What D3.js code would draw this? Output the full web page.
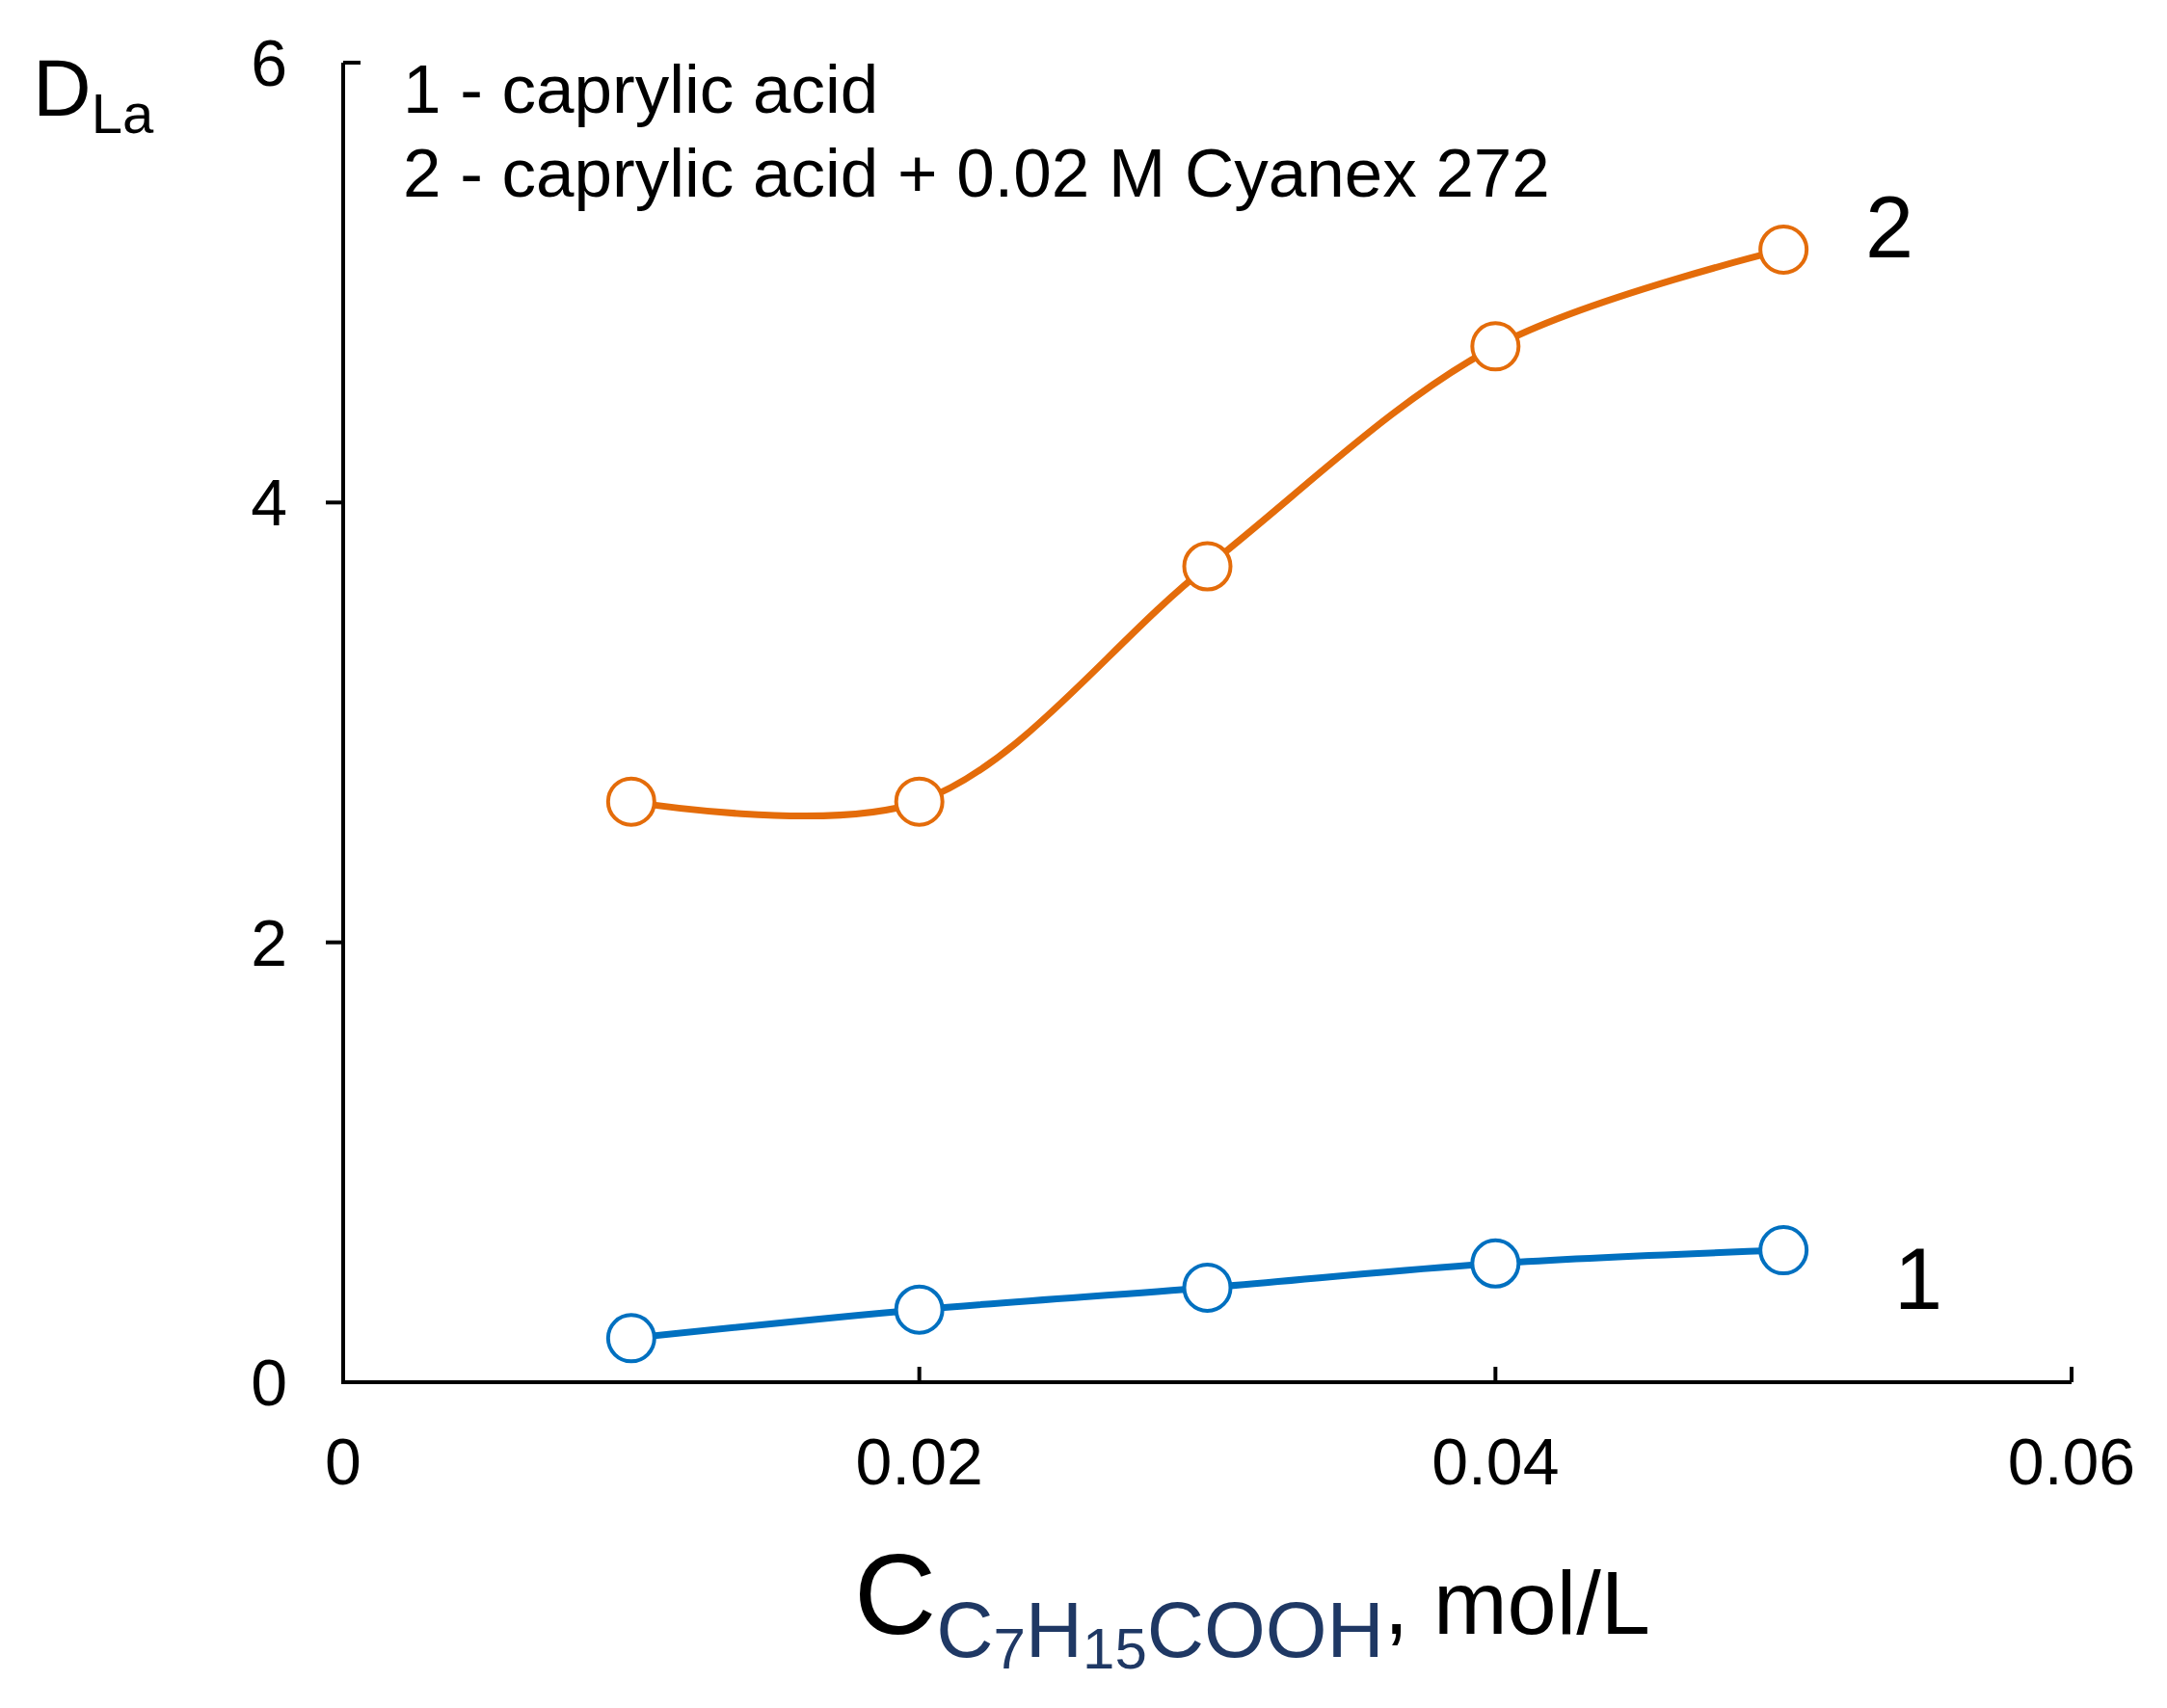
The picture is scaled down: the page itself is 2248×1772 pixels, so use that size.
<!DOCTYPE html>
<html><head><meta charset="utf-8">
<script src="https://cdn.jsdelivr.net/npm/d3@7"></script>
<style>body{margin:0;background:#fff}text{font-family:"Liberation Sans",Arial,sans-serif}</style>
</head><body>
<svg id="c" width="2248" height="1772"></svg>
<script>
const xValues = [0.01, 0.02, 0.03, 0.04, 0.05];
const series1 = [0.2, 0.33, 0.43, 0.54, 0.6];
const series2 = [2.64, 2.64, 3.71, 4.71, 5.15];
const xTicks = [0, 0.02, 0.04, 0.06];
const yTicks = [0, 2, 4, 6];
const legendLines = ["1 - caprylic acid", "2 - caprylic acid + 0.02 M Cyanex 272"];

const svg = d3.select("#c");
const x = d3.scaleLinear().domain([0, 0.06]).range([356, 2149]);
const y = d3.scaleLinear().domain([0, 6]).range([1434, 65]);

// axes
const ax = svg.append("g").attr("stroke", "#000").attr("stroke-width", 4).attr("fill", "none");
ax.append("path").attr("d", `M${x(0)},${y(6)}V${y(0)}H${x(0.06)}`);
yTicks.slice(1, 3).forEach(t => ax.append("line").attr("x1", x(0) - 18).attr("x2", x(0)).attr("y1", y(t)).attr("y2", y(t)));
ax.append("line").attr("x1", x(0)).attr("x2", x(0) + 18).attr("y1", y(6)).attr("y2", y(6));
xTicks.slice(1).forEach(t => ax.append("line").attr("x1", x(t)).attr("x2", x(t)).attr("y1", y(0)).attr("y2", y(0) - 16));

svg.append("g").selectAll("text").data(yTicks).join("text")
  .attr("x", 298).attr("y", d => y(d) + 24).attr("text-anchor", "end")
  .attr("font-size", 68).text(d => d);
svg.append("g").selectAll("text").data(xTicks).join("text")
  .attr("x", d => x(d)).attr("y", 1540).attr("text-anchor", "middle")
  .attr("font-size", 68).text(d => d === 0 ? "0" : d.toFixed(2));

// series
const line = d3.line().x((d, i) => x(xValues[i])).y(d => y(d)).curve(d3.curveCatmullRom.alpha(0.5));
[[series1, "#0070c0"], [series2, "#e46c0a"]].forEach(([s, col]) => {
  svg.append("path").attr("d", line(s)).attr("fill", "none").attr("stroke", col).attr("stroke-width", 7);
  svg.append("g").selectAll("circle").data(s).join("circle")
    .attr("cx", (d, i) => x(xValues[i])).attr("cy", d => y(d)).attr("r", 24)
    .attr("fill", "#fff").attr("stroke", col).attr("stroke-width", 4);
});

// legend and curve labels
svg.append("g").selectAll("text").data(legendLines).join("text")
  .attr("x", 418).attr("y", (d, i) => 117 + i * 87).attr("font-size", 71).text(d => d);
svg.append("text").attr("x", 1935).attr("y", 267).attr("font-size", 90).text("2");
svg.append("text").attr("x", 1965).attr("y", 1358).attr("font-size", 90).text("1");

// y title
const yt = svg.append("text").attr("x", 34).attr("y", 120).attr("font-size", 84);
yt.append("tspan").text("D");
yt.append("tspan").attr("font-size", 58).attr("dy", 18).text("La");

// x title
const xt = svg.append("text").attr("x", 886).attr("y", 1695).attr("font-size", 118);
xt.append("tspan").text("C");
const sub = [["C", 0, 82], ["7", 12, 60], ["H", -12, 82], ["15", 12, 60], ["COOH", -12, 82]];
sub.forEach(([t, dy, fs], i) => xt.append("tspan").attr("fill", "#1f3864")
  .attr("font-size", fs).attr("dy", i === 0 ? 24 : dy).text(t));
xt.append("tspan").attr("font-size", 92).attr("dy", -24).text(", mol/L");
</script>
</body></html>
